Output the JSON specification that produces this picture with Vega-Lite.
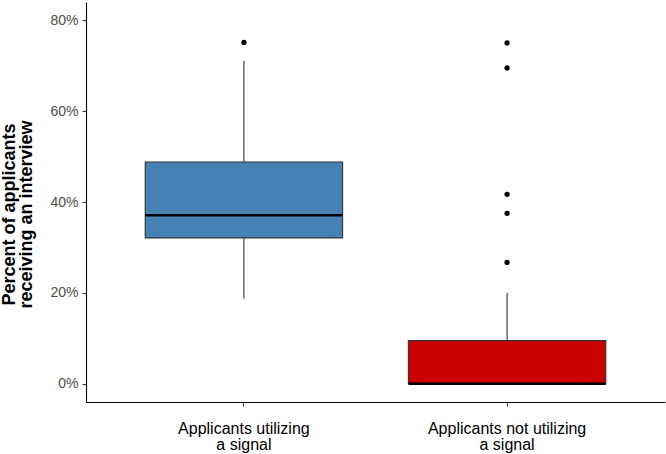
{
  "$schema": "https://vega.github.io/schema/vega-lite/v6.json",
  "width": 579,
  "height": 400,
  "autosize": {"type": "none"},
  "padding": {"left": 86, "top": 2, "right": 1, "bottom": 52},
  "background": "white",
  "config": {
    "font": "Liberation Sans",
    "view": {"stroke": null},
    "axis": {"grid": false, "domainColor": "#000000", "domainWidth": 1.1, "tickColor": "#333333", "tickSize": 4, "tickWidth": 1.1}
  },
  "datasets": {
    "boxes": [
      {"group": "Applicants utilizing a signal", "lower": 0.187, "q1": 0.321, "median": 0.371, "q3": 0.488, "upper": 0.711},
      {"group": "Applicants not utilizing a signal", "lower": 0.0, "q1": 0.0, "median": 0.0, "q3": 0.095, "upper": 0.2}
    ],
    "outliers": [
      {"group": "Applicants utilizing a signal", "value": 0.751},
      {"group": "Applicants not utilizing a signal", "value": 0.75},
      {"group": "Applicants not utilizing a signal", "value": 0.695},
      {"group": "Applicants not utilizing a signal", "value": 0.417},
      {"group": "Applicants not utilizing a signal", "value": 0.375},
      {"group": "Applicants not utilizing a signal", "value": 0.267}
    ]
  },
  "encoding": {
    "x": {
      "field": "group",
      "type": "nominal",
      "sort": ["Applicants utilizing a signal", "Applicants not utilizing a signal"],
      "scale": {"paddingInner": 0, "paddingOuter": 0.1},
      "axis": {
        "title": null,
        "labelAngle": 0,
        "labelFontSize": 16,
        "labelColor": "#000000",
        "labelLineHeight": 16,
        "labelPadding": 14,
        "labelExpr": "datum.value == 'Applicants utilizing a signal' ? ['Applicants utilizing', 'a signal'] : ['Applicants not utilizing', 'a signal']"
      }
    }
  },
  "layer": [
    {
      "data": {"name": "boxes"},
      "mark": {"type": "rule", "color": "#333333", "strokeWidth": 1.1},
      "encoding": {
        "y": {
          "field": "lower",
          "type": "quantitative",
          "scale": {"domain": [-0.04, 0.84], "nice": false, "zero": false},
          "axis": {
            "values": [0, 0.2, 0.4, 0.6, 0.8],
            "format": ".0%",
            "labelFontSize": 14,
            "labelColor": "#4d4d4d",
            "labelPadding": 4,
            "title": ["Percent of applicants", "receiving an interview"],
            "titleFontSize": 18,
            "titleFontWeight": "bold",
            "titleColor": "#000000",
            "titleLineHeight": 17,
            "titleAngle": 270,
            "titleAlign": "center",
            "titleBaseline": "top",
            "titleX": -86,
            "titleY": 212
          }
        },
        "y2": {"field": "upper"}
      }
    },
    {
      "data": {"name": "boxes"},
      "mark": {"type": "bar", "width": {"band": 0.75}, "stroke": "#333333", "strokeWidth": 1.1},
      "encoding": {
        "y": {"field": "q1", "type": "quantitative"},
        "y2": {"field": "q3"},
        "fill": {
          "field": "group",
          "type": "nominal",
          "scale": {"domain": ["Applicants utilizing a signal", "Applicants not utilizing a signal"], "range": ["#4682B4", "#CD0000"]},
          "legend": null
        }
      }
    },
    {
      "data": {"name": "boxes"},
      "mark": {"type": "tick", "color": "#000000", "size": 197, "thickness": 2.5, "opacity": 1},
      "encoding": {
        "y": {"field": "median", "type": "quantitative"}
      }
    },
    {
      "data": {"name": "outliers"},
      "mark": {"type": "circle", "color": "#000000", "size": 28, "opacity": 1},
      "encoding": {
        "y": {"field": "value", "type": "quantitative"}
      }
    }
  ]
}
